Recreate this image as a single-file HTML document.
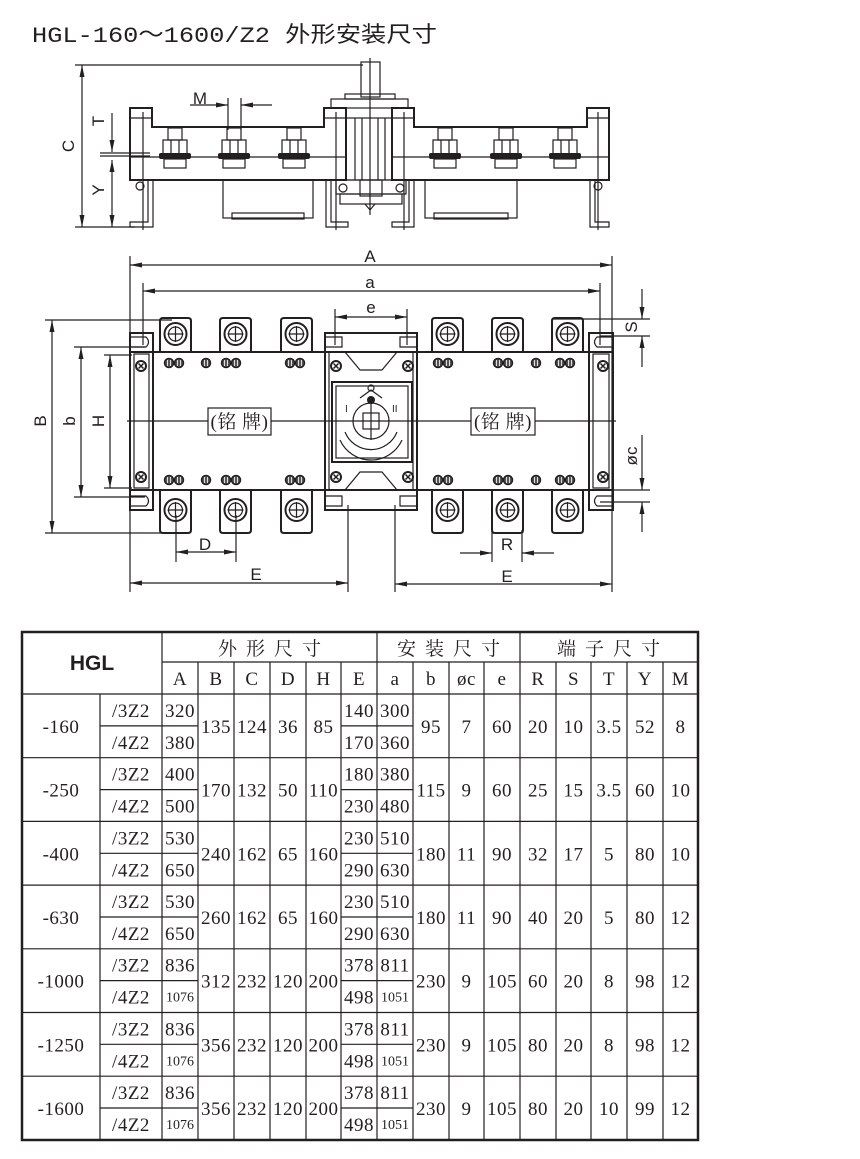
<!DOCTYPE html>
<html><head><meta charset="utf-8"><style>
html,body{margin:0;padding:0;background:#fff}
svg{display:block}
.l{stroke:#231f20;fill:none;stroke-width:1.2}
.t{stroke:#231f20;fill:none;stroke-width:2}
.f{font-family:"Liberation Sans","Noto Sans CJK SC",sans-serif;fill:#231f20}
.s{font-family:"Liberation Serif","Noto Serif CJK SC",serif;fill:#231f20;font-size:19px;text-anchor:middle;letter-spacing:0.5px}
.sm{font-size:14px;letter-spacing:0}
</style></head><body>
<svg width="860" height="1159" viewBox="0 0 860 1159" xmlns="http://www.w3.org/2000/svg">
<defs>
<marker id="ar" viewBox="0 0 12 6" refX="12" refY="3" markerWidth="12" markerHeight="6" markerUnits="userSpaceOnUse" orient="auto-start-reverse"><path d="M0,0.5 L12,3 L0,5.5Z" fill="#231f20"/></marker>
<g id="term">
<path d="M0,34 V3 Q0,0 3,0 H28 Q31,0 31,3 V34" class="t"/>
<circle cx="15.5" cy="16" r="11" class="t" stroke-width="2.5"/>
<circle cx="15.5" cy="16" r="7" class="l"/>
<path d="M15.5,8 V24 M7.5,16 H23.5" class="l"/>
</g>
<g id="termb">
<path d="M0,0 V40 Q0,43 3,43 H28 Q31,43 31,40 V0" class="t"/>
<circle cx="15.5" cy="20" r="11" class="t" stroke-width="2.5"/>
<circle cx="15.5" cy="20" r="7" class="l"/>
<path d="M15.5,12 V28 M7.5,20 H23.5" class="l"/>
</g>
<g id="scr"><circle r="5" fill="#fff" stroke="#231f20" stroke-width="2"/><path d="M-2.5,-2.5 L2.5,2.5 M2.5,-2.5 L-2.5,2.5" stroke="#231f20" stroke-width="1.5"/></g>
<g id="sm"><circle r="4.5" fill="#555" stroke="#231f20" stroke-width="1.5"/><path d="M-1.5,-3 V3 M1.5,-3 V3" stroke="#fff" stroke-width="0.8"/></g>
<g id="bolt">
<rect x="-7" y="128" width="14" height="12" class="l" fill="#fff"/>
<rect x="-12" y="140" width="24" height="14" class="l" fill="#fff"/>
<path d="M-4,140 V154 M4,140 V154" class="l"/>
<rect x="-16" y="153" width="32" height="6" rx="2" fill="#231f20"/>
<rect x="-11" y="159" width="22" height="9" class="l" fill="#fff"/>
</g>
</defs>

<text x="32" y="42" class="f" font-size="22" textLength="405" lengthAdjust="spacingAndGlyphs" style="font-family:'Liberation Mono','Noto Sans CJK SC',monospace">HGL-160～1600/Z2 外形安装尺寸</text>

<!-- ===== TOP VIEW ===== -->
<path d="M75,65 H363 M75,227 H135" class="l"/>
<line x1="82" y1="65" x2="82" y2="227" class="l" marker-start="url(#ar)" marker-end="url(#ar)"/>
<text class="f" font-size="17" transform="translate(74,146) rotate(-90)" text-anchor="middle">C</text>
<line x1="112" y1="113" x2="112" y2="152" class="l" marker-end="url(#ar)"/>
<line x1="112" y1="160" x2="112" y2="227" class="l" marker-start="url(#ar)" marker-end="url(#ar)"/>
<path d="M100,153 H150 M100,156 H150" class="l"/>
<text class="f" font-size="17" transform="translate(104,121) rotate(-90)" text-anchor="middle">T</text>
<text class="f" font-size="17" transform="translate(104,190) rotate(-90)" text-anchor="middle">Y</text>
<text x="200" y="104" class="f" font-size="17" text-anchor="middle">M</text>
<line x1="190" y1="105" x2="228" y2="105" class="l" marker-end="url(#ar)"/>
<line x1="272" y1="105" x2="241" y2="105" class="l" marker-end="url(#ar)"/>
<path d="M228,98 V130 M241,98 V130" class="l"/>
<rect x="361" y="62" width="19" height="35" class="l"/>
<rect x="345" y="94" width="50" height="5" class="l"/>
<rect x="331" y="99" width="77" height="9" class="l"/>
<path d="M130,108 H152 V127 H324 V108 H346 V180 H130 Z" class="t"/>
<path d="M392,108 H414 V127 H587 V108 H609 V180 H392 Z" class="t"/>
<rect x="346" y="118" width="46" height="62" class="l"/>
<path d="M355,118 V180 M362,118 V180 M378,118 V180 M385,118 V180" class="l"/>
<path d="M130,157 H346 M392,157 H609 M130,118 H152 M587,118 H609 M324,118 H346 M392,118 H414" class="l"/>
<path d="M370,58 V215 M143,112 V230 M336,112 V230 M404,112 V230 M598,112 V230" class="l" stroke-width="0.8"/>
<use href="#bolt" x="175"/><use href="#bolt" x="234"/><use href="#bolt" x="294"/>
<use href="#bolt" x="445"/><use href="#bolt" x="506"/><use href="#bolt" x="565"/>
<rect x="223" y="180" width="90" height="38" class="l"/><rect x="232" y="213" width="72" height="6" class="l"/>
<rect x="425" y="180" width="92" height="38" class="l"/><rect x="434" y="213" width="74" height="6" class="l"/>
<path d="M148,180 V222 H130 V227 H153 V180" class="l" fill="#fff"/>
<path d="M590,180 V227 H609 V222 H595 V180" class="l" fill="#fff"/>
<path d="M326,180 V227 H348 V222 H331 V180" class="l"/>
<path d="M414,180 V227 H392 V222 H409 V180" class="l"/>
<rect x="336" y="180" width="70" height="14" class="l"/>
<rect x="340" y="194" width="62" height="10" class="l"/>
<rect x="360" y="180" width="22" height="16" class="l"/>
<circle cx="140" cy="186" r="4" class="l"/><circle cx="598" cy="186" r="4" class="l"/>
<circle cx="343" cy="188" r="4" class="l"/><circle cx="400" cy="188" r="4" class="l"/>
<path d="M365,204 L370,210 L375,204" class="l"/>

<!-- ===== PLAN VIEW ===== -->
<line x1="130" y1="265" x2="612" y2="265" class="l" marker-start="url(#ar)" marker-end="url(#ar)"/>
<text x="370" y="262" class="f" font-size="17" text-anchor="middle">A</text>
<line x1="143" y1="291" x2="600" y2="291" class="l" marker-start="url(#ar)" marker-end="url(#ar)"/>
<text x="370" y="288" class="f" font-size="17" text-anchor="middle">a</text>
<line x1="335" y1="317" x2="407" y2="317" class="l" marker-start="url(#ar)" marker-end="url(#ar)"/>
<text x="371" y="313" class="f" font-size="17" text-anchor="middle">e</text>
<path d="M130,256 V592 M612,256 V592 M143,283 V345 M600,283 V345 M335,309 V345 M407,309 V345" class="l"/>
<path d="M45,320 H172 M45,533 H172 M74,347 H145 M74,497 H145 M104,355 H132 M104,488 H132" class="l"/>
<line x1="52" y1="320" x2="52" y2="533" class="l" marker-start="url(#ar)" marker-end="url(#ar)"/>
<line x1="81" y1="347" x2="81" y2="497" class="l" marker-start="url(#ar)" marker-end="url(#ar)"/>
<line x1="110" y1="355" x2="110" y2="488" class="l" marker-start="url(#ar)" marker-end="url(#ar)"/>
<text class="f" font-size="17" transform="translate(46,421) rotate(-90)" text-anchor="middle">B</text>
<text class="f" font-size="17" transform="translate(75,421) rotate(-90)" text-anchor="middle">b</text>
<text class="f" font-size="17" transform="translate(104,421) rotate(-90)" text-anchor="middle">H</text>
<path d="M176,515 V562 M236,515 V562 M348,505 V592 M395,505 V592 M492,530 V562 M522,530 V562" class="l"/>
<line x1="176" y1="552" x2="236" y2="552" class="l" marker-start="url(#ar)" marker-end="url(#ar)"/>
<text x="205" y="550" class="f" font-size="17" text-anchor="middle">D</text>
<line x1="130" y1="583" x2="348" y2="583" class="l" marker-start="url(#ar)" marker-end="url(#ar)"/>
<text x="256" y="580" class="f" font-size="17" text-anchor="middle">E</text>
<line x1="460" y1="553" x2="492" y2="553" class="l" marker-end="url(#ar)"/>
<line x1="554" y1="553" x2="522" y2="553" class="l" marker-end="url(#ar)"/>
<text x="507" y="550" class="f" font-size="17" text-anchor="middle">R</text>
<line x1="395" y1="584" x2="612" y2="584" class="l" marker-start="url(#ar)" marker-end="url(#ar)"/>
<text x="507" y="582" class="f" font-size="17" text-anchor="middle">E</text>
<path d="M552,319 H650 M600,336 H650 M600,490 H650 M600,502 H650" class="l"/>
<line x1="642" y1="289" x2="642" y2="319" class="l" marker-end="url(#ar)"/>
<line x1="642" y1="367" x2="642" y2="336" class="l" marker-end="url(#ar)"/>
<line x1="642" y1="435" x2="642" y2="490" class="l" marker-end="url(#ar)"/>
<line x1="642" y1="532" x2="642" y2="502" class="l" marker-end="url(#ar)"/>
<text class="f" font-size="17" transform="translate(637,327) rotate(-90)" text-anchor="middle">S</text>
<text class="f" font-size="17" transform="translate(637,456) rotate(-90)" text-anchor="middle">øc</text>

<use href="#term" x="160" y="318"/><use href="#term" x="220" y="318"/><use href="#term" x="281" y="318"/>
<use href="#term" x="432" y="318"/><use href="#term" x="492" y="318"/><use href="#term" x="552" y="318"/>
<use href="#termb" x="160" y="490"/><use href="#termb" x="220" y="490"/><use href="#termb" x="281" y="490"/>
<use href="#termb" x="432" y="490"/><use href="#termb" x="492" y="490"/><use href="#termb" x="552" y="490"/>
<path d="M130,352 H612 M130,490 H612" class="t"/>
<rect x="130" y="333" width="23" height="177" class="t" fill="none"/>
<rect x="134" y="354" width="15" height="134" class="l"/>
<rect x="589" y="333" width="24" height="177" class="t" fill="none"/>
<rect x="593" y="354" width="16" height="134" class="l"/>
<path d="M130,337 H146 Q151,342 146,347 H130 M130,496 H146 Q151,501 146,506 H130" class="l"/>
<path d="M613,337 H597 Q592,342 597,347 H613 M613,496 H597 Q592,501 597,506 H613" class="l"/>
<rect x="325" y="333" width="92" height="177" class="t" fill="#fff"/>
<rect x="329" y="352" width="84" height="138" class="l"/>
<path d="M345,352 L360,370 H382 L397,352 M345,490 L360,472 H382 L397,490" class="l"/>
<path d="M325,337 H342 V347 H325 M417,337 H400 V347 H417 M325,496 H342 V506 H325 M417,496 H400 V506 H417" class="l"/>
<rect x="332" y="382" width="80" height="80" class="t" fill="#fff"/>
<rect x="336" y="386" width="72" height="72" class="l"/>
<circle cx="371" cy="421" r="18" class="l"/>
<rect x="363" y="413" width="16" height="16" class="l"/>
<circle cx="371" cy="400" r="4" fill="#231f20"/><circle cx="371" cy="388" r="3" class="l"/>
<path d="M371,402 V440 M360,398 L371,390 L382,398" class="l"/>
<path d="M345,432 A28,28 0 0 0 397,432 M340,440 A34,34 0 0 0 402,440" class="l"/>
<text x="345" y="412" class="f" font-size="10">I</text><text x="392" y="412" class="f" font-size="10">II</text>
<use href="#scr" x="141" y="366"/><use href="#scr" x="141" y="477"/>
<use href="#scr" x="336" y="366"/><use href="#scr" x="408" y="366"/>
<use href="#scr" x="336" y="477"/><use href="#scr" x="408" y="477"/>
<use href="#scr" x="603" y="366"/><use href="#scr" x="603" y="477"/>
<g>
<use href="#sm" x="169" y="363"/><use href="#sm" x="179" y="363"/><use href="#sm" x="206" y="363"/><use href="#sm" x="226" y="363"/><use href="#sm" x="236" y="363"/><use href="#sm" x="290" y="363"/><use href="#sm" x="300" y="363"/>
<use href="#sm" x="438" y="363"/><use href="#sm" x="448" y="363"/><use href="#sm" x="498" y="363"/><use href="#sm" x="508" y="363"/><use href="#sm" x="536" y="363"/><use href="#sm" x="560" y="363"/><use href="#sm" x="570" y="363"/>
<use href="#sm" x="169" y="480"/><use href="#sm" x="179" y="480"/><use href="#sm" x="206" y="480"/><use href="#sm" x="226" y="480"/><use href="#sm" x="236" y="480"/><use href="#sm" x="290" y="480"/><use href="#sm" x="300" y="480"/>
<use href="#sm" x="438" y="480"/><use href="#sm" x="448" y="480"/><use href="#sm" x="498" y="480"/><use href="#sm" x="508" y="480"/><use href="#sm" x="536" y="480"/><use href="#sm" x="560" y="480"/><use href="#sm" x="570" y="480"/>
</g>
<path d="M127,421 H208 M271,421 H471 M535,421 H616" class="l"/>
<rect x="208" y="408" width="63" height="27" class="l" stroke-width="1.5"/>
<rect x="471" y="408" width="64" height="27" class="l" stroke-width="1.5"/>
<text x="239.5" y="428" class="s" font-size="16" style="font-family:'Liberation Serif','Noto Serif CJK SC',serif">(铭 牌)</text>
<text x="503" y="428" class="s" font-size="16" style="font-family:'Liberation Serif','Noto Serif CJK SC',serif">(铭 牌)</text>

<!-- ===== TABLE ===== -->
<rect x="22" y="632" width="676" height="508" fill="none" stroke="#231f20" stroke-width="2.5"/>
<path d="M162,662 H698 M22,694 H698" class="l" stroke-width="2"/>
<path d="M22,757.7 H698 M22,821.4 H698 M22,885.1 H698 M22,948.8 H698 M22,1012.5 H698 M22,1076.2 H698" class="l" stroke-width="1.8"/>
<path d="M162,632 V1140 M377,632 V1140 M520,632 V1140" class="l" stroke-width="2"/>
<path d="M100,694 V1140 M198,662 V1140 M234,662 V1140 M270,662 V1140 M306,662 V1140 M341,662 V1140 M413,662 V1140 M449,662 V1140 M484,662 V1140 M556,662 V1140 M591,662 V1140 M627,662 V1140 M663,662 V1140" class="l"/>
<path d="M100,725.9 H198 M341,725.9 H413 M100,789.6 H198 M341,789.6 H413 M100,853.3 H198 M341,853.3 H413 M100,917 H198 M341,917 H413 M100,980.6 H198 M341,980.6 H413 M100,1044.3 H198 M341,1044.3 H413 M100,1108 H198 M341,1108 H413" class="l"/>
<text x="92" y="670" class="f" font-size="21" font-weight="bold" text-anchor="middle">HGL</text>
<text x="274" y="655" class="s" style="font-family:'Noto Serif CJK SC',serif;letter-spacing:9px;font-size:19px">外形尺寸</text>
<text x="453" y="655" class="s" style="font-family:'Noto Serif CJK SC',serif;letter-spacing:9px;font-size:19px">安装尺寸</text>
<text x="613" y="655" class="s" style="font-family:'Noto Serif CJK SC',serif;letter-spacing:9px;font-size:19px">端子尺寸</text>
<g class="s" font-size="17">
<text x="180" y="685">A</text><text x="216" y="685">B</text><text x="252" y="685">C</text><text x="288" y="685">D</text><text x="323.5" y="685">H</text><text x="359" y="685">E</text><text x="395" y="685">a</text><text x="431" y="685">b</text><text x="466.5" y="685">øc</text><text x="502" y="685">e</text><text x="538" y="685">R</text><text x="573.5" y="685">S</text><text x="609" y="685">T</text><text x="645" y="685">Y</text><text x="680.5" y="685">M</text>
</g>
<g class="s" transform="translate(0,726)">
<text x="61" y="7">-160</text><text x="131" y="-9">/3Z2</text><text x="131" y="23">/4Z2</text><text x="180" y="-9">320</text><text x="180" y="23">380</text><text x="216" y="7">135</text><text x="252" y="7">124</text><text x="288" y="7">36</text><text x="323.5" y="7">85</text><text x="359" y="-9">140</text><text x="359" y="23">170</text><text x="395" y="-9">300</text><text x="395" y="23">360</text><text x="431" y="7">95</text><text x="466.5" y="7">7</text><text x="502" y="7">60</text><text x="538" y="7">20</text><text x="573.5" y="7">10</text><text x="609" y="7">3.5</text><text x="645" y="7">52</text><text x="680.5" y="7">8</text>
</g>
<g class="s" transform="translate(0,789.6)">
<text x="61" y="7">-250</text><text x="131" y="-9">/3Z2</text><text x="131" y="23">/4Z2</text><text x="180" y="-9">400</text><text x="180" y="23">500</text><text x="216" y="7">170</text><text x="252" y="7">132</text><text x="288" y="7">50</text><text x="323.5" y="7">110</text><text x="359" y="-9">180</text><text x="359" y="23">230</text><text x="395" y="-9">380</text><text x="395" y="23">480</text><text x="431" y="7">115</text><text x="466.5" y="7">9</text><text x="502" y="7">60</text><text x="538" y="7">25</text><text x="573.5" y="7">15</text><text x="609" y="7">3.5</text><text x="645" y="7">60</text><text x="680.5" y="7">10</text>
</g>
<g class="s" transform="translate(0,853.3)">
<text x="61" y="7">-400</text><text x="131" y="-9">/3Z2</text><text x="131" y="23">/4Z2</text><text x="180" y="-9">530</text><text x="180" y="23">650</text><text x="216" y="7">240</text><text x="252" y="7">162</text><text x="288" y="7">65</text><text x="323.5" y="7">160</text><text x="359" y="-9">230</text><text x="359" y="23">290</text><text x="395" y="-9">510</text><text x="395" y="23">630</text><text x="431" y="7">180</text><text x="466.5" y="7">11</text><text x="502" y="7">90</text><text x="538" y="7">32</text><text x="573.5" y="7">17</text><text x="609" y="7">5</text><text x="645" y="7">80</text><text x="680.5" y="7">10</text>
</g>
<g class="s" transform="translate(0,917)">
<text x="61" y="7">-630</text><text x="131" y="-9">/3Z2</text><text x="131" y="23">/4Z2</text><text x="180" y="-9">530</text><text x="180" y="23">650</text><text x="216" y="7">260</text><text x="252" y="7">162</text><text x="288" y="7">65</text><text x="323.5" y="7">160</text><text x="359" y="-9">230</text><text x="359" y="23">290</text><text x="395" y="-9">510</text><text x="395" y="23">630</text><text x="431" y="7">180</text><text x="466.5" y="7">11</text><text x="502" y="7">90</text><text x="538" y="7">40</text><text x="573.5" y="7">20</text><text x="609" y="7">5</text><text x="645" y="7">80</text><text x="680.5" y="7">12</text>
</g>
<g class="s" transform="translate(0,980.6)">
<text x="61" y="7">-1000</text><text x="131" y="-9">/3Z2</text><text x="131" y="23">/4Z2</text><text x="180" y="-9">836</text><text x="180" y="21" class="sm">1076</text><text x="216" y="7">312</text><text x="252" y="7">232</text><text x="288" y="7">120</text><text x="323.5" y="7">200</text><text x="359" y="-9">378</text><text x="359" y="23">498</text><text x="395" y="-9">811</text><text x="395" y="21" class="sm">1051</text><text x="431" y="7">230</text><text x="466.5" y="7">9</text><text x="502" y="7">105</text><text x="538" y="7">60</text><text x="573.5" y="7">20</text><text x="609" y="7">8</text><text x="645" y="7">98</text><text x="680.5" y="7">12</text>
</g>
<g class="s" transform="translate(0,1044.3)">
<text x="61" y="7">-1250</text><text x="131" y="-9">/3Z2</text><text x="131" y="23">/4Z2</text><text x="180" y="-9">836</text><text x="180" y="21" class="sm">1076</text><text x="216" y="7">356</text><text x="252" y="7">232</text><text x="288" y="7">120</text><text x="323.5" y="7">200</text><text x="359" y="-9">378</text><text x="359" y="23">498</text><text x="395" y="-9">811</text><text x="395" y="21" class="sm">1051</text><text x="431" y="7">230</text><text x="466.5" y="7">9</text><text x="502" y="7">105</text><text x="538" y="7">80</text><text x="573.5" y="7">20</text><text x="609" y="7">8</text><text x="645" y="7">98</text><text x="680.5" y="7">12</text>
</g>
<g class="s" transform="translate(0,1108)">
<text x="61" y="7">-1600</text><text x="131" y="-9">/3Z2</text><text x="131" y="23">/4Z2</text><text x="180" y="-9">836</text><text x="180" y="21" class="sm">1076</text><text x="216" y="7">356</text><text x="252" y="7">232</text><text x="288" y="7">120</text><text x="323.5" y="7">200</text><text x="359" y="-9">378</text><text x="359" y="23">498</text><text x="395" y="-9">811</text><text x="395" y="21" class="sm">1051</text><text x="431" y="7">230</text><text x="466.5" y="7">9</text><text x="502" y="7">105</text><text x="538" y="7">80</text><text x="573.5" y="7">20</text><text x="609" y="7">10</text><text x="645" y="7">99</text><text x="680.5" y="7">12</text>
</g>
</svg>
</body></html>
